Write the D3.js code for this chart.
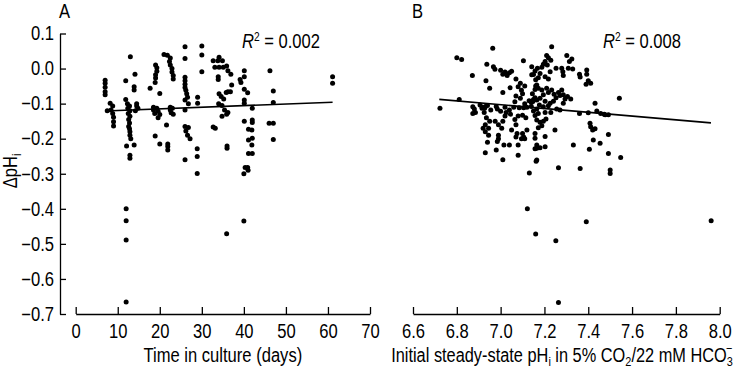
<!DOCTYPE html>
<html>
<head>
<meta charset="utf-8">
<script src="https://cdn.jsdelivr.net/npm/d3@7"></script>
<style>
  html, body { margin: 0; padding: 0; background: #fff; }
  svg text { font-family: "Liberation Sans", Arial, sans-serif; fill: #000; }
</style>
</head>
<body>
<svg id="chart" width="754" height="369"></svg>
<script>
// ---------- DATA ----------
const yTicks = [0.1, 0.0, -0.1, -0.2, -0.3, -0.4, -0.5, -0.6, -0.7];
const xTicksA = [0, 10, 20, 30, 40, 50, 60, 70];
const xTicksB = [6.6, 6.8, 7.0, 7.2, 7.4, 7.6, 7.8, 8.0];

// Panel A: [time in culture (days), delta pHi]
const pointsA = [
  [7,-0.033],[7,-0.042],[7,-0.053],[7,-0.066],[7,-0.075],[7.5,-0.12],
  [8.2,-0.099],[8.8,-0.107],[8.4,-0.118],[8.8,-0.128],[9.0,-0.139],[9.0,-0.152],[9.0,-0.164],
  [13.0,0.034],[14.1,-0.016],[11.9,-0.035],[13.9,-0.052],[13.9,-0.061],[11.9,-0.088],
  [12.3,-0.100],[12.8,-0.107],[12.4,-0.113],[12.9,-0.120],[12.5,-0.128],[12.9,-0.136],[12.6,-0.145],
  [12.8,-0.155],[12.6,-0.165],[12.8,-0.172],[12.9,-0.180],[12.9,-0.190],[13.1,-0.200],
  [14.5,-0.100],[14.5,-0.107],[14.8,-0.113],[14.2,-0.120],
  [12.1,-0.221],[13.9,-0.218],[12.9,-0.247],[12.9,-0.256],
  [12.0,-0.400],[12.0,-0.434],[12.0,-0.489],[12.0,-0.666],
  [17.7,-0.056],[18.9,-0.040],[19.0,0.010],[19.3,0.002],[19.3,-0.008],[19.0,-0.018],[19.0,-0.027],
  [21.0,0.040],[21.8,0.038],[22.5,0.030],[22.3,0.020],[22.5,0.010],[22.9,0.000],[22.9,-0.010],[23.2,-0.020],[23.2,-0.030],
  [20.0,-0.071],
  [18.5,-0.110],[19.3,-0.113],[18.5,-0.118],[19.6,-0.122],[18.8,-0.128],[20.0,-0.131],[19.6,-0.140],
  [22.5,-0.110],[23.0,-0.113],[22.5,-0.118],[22.7,-0.126],[23.2,-0.130],
  [21.6,-0.161],[18.9,-0.192],[20.0,-0.215],[21.9,-0.215],[21.9,-0.222],[21.9,-0.232],
  [26,0.062],[26,0.029],[26,-0.025],[26,-0.035],[26,-0.045],[26,-0.054],[26.2,-0.062],[26.4,-0.072],
  [26.6,-0.082],[26,-0.090],[26.8,-0.100],[26,-0.118],
  [26,-0.165],[26.8,-0.168],[26.2,-0.178],[26.6,-0.190],[27.2,-0.200],[26,-0.260],
  [29,-0.082],[29,-0.099],[28.9,-0.229],[28.9,-0.251],[28.9,-0.299],
  [30,0.064],[30,0.039],[30,-0.009],[32.7,0.022],[32.7,-0.167],
  [34.1,0.032],[33.8,0.022],[34.9,0.022],[33.1,0.004],[34.1,0.004],[35.1,0.004],[35.9,0.007],[36.2,-0.006],
  [36.9,-0.016],[33.9,-0.023],[33.9,-0.031],[37.1,-0.047],[36.2,-0.066],[36.8,-0.066],[35.8,-0.068],
  [34.1,-0.072],[34.6,-0.080],[35.2,-0.087],[34,-0.100],[34.8,-0.105],[35.4,-0.118],[36.2,-0.125],
  [35.9,-0.130],[34.8,-0.136],[33.2,-0.170],[36,-0.221],[36,-0.227],[35.9,-0.471],
  [40.1,-0.006],[39.1,-0.031],[39.3,-0.040],[40.1,-0.023],[40.1,-0.059],[40.9,-0.069],[40.1,-0.090],
  [40.1,-0.099],[42,-0.113],[40.1,-0.150],[42,-0.147],[42,-0.154],[41.1,-0.173],[41.9,-0.175],
  [42,-0.199],[41.1,-0.204],[41.9,-0.218],[41.1,-0.242],[42,-0.242],[40.3,-0.282],[40.9,-0.282],
  [40,-0.300],[41,-0.290],[40,-0.435],
  [46.2,-0.006],[47,-0.064],[47,-0.097],[46,-0.156],[47,-0.156],[47,-0.202],
  [61.1,-0.023],[61.1,-0.042]
];

// Panel B: [initial steady-state pHi, delta pHi]
const pointsB = [
  [6.723,-0.113],[6.811,-0.088],[6.80,0.031],[6.822,0.026],[6.871,-0.020],[6.964,0.058],
  [6.937,0.012],[6.967,0.005],[6.974,-0.002],
  [7.00,-0.005],[7.02,-0.010],[7.01,-0.016],[7.04,-0.012],[7.05,-0.008],[7.03,-0.020],
  [7.104,0.022],[7.142,0.005],[6.933,-0.035],[6.95,-0.056],[7.01,-0.068],[7.043,-0.055],
  [7.07,-0.030],[7.09,-0.042],[7.08,-0.052],[7.095,-0.062],[7.10,-0.072],[7.07,-0.078],[7.09,-0.085],[7.11,-0.050],
  [7.065,-0.095],[7.13,-0.092],[7.11,-0.100],[7.15,-0.088],[7.14,-0.097],
  [7.15,-0.017],[7.16,-0.032],[7.16,-0.050],[7.157,-0.060],[7.145,-0.072],[7.165,-0.090],
  [6.873,-0.109],[6.873,-0.128],[6.906,-0.104],[6.916,-0.110],[6.927,-0.113],
  [6.88,-0.115],[6.885,-0.125],[6.915,-0.113],[6.93,-0.108],[6.94,-0.105],[6.925,-0.125],[6.955,-0.118],
  [6.98,-0.108],[6.985,-0.115],[7.00,-0.122],[7.02,-0.110],[7.025,-0.125],[7.04,-0.118],[7.06,-0.110],
  [7.085,-0.112],[7.105,-0.112],[7.12,-0.110],[7.14,-0.108],
  [6.935,-0.140],[6.95,-0.150],[6.93,-0.160],[6.945,-0.170],[6.975,-0.150],[6.99,-0.160],[7.01,-0.150],
  [7.02,-0.135],[7.045,-0.130],[7.065,-0.145],[7.08,-0.135],[7.10,-0.133],[7.115,-0.140],[7.05,-0.175],
  [7.07,-0.160],[7.075,-0.185],[7.10,-0.185],[7.105,-0.195],[7.12,-0.175],[7.005,-0.170],
  [6.92,-0.170],[6.93,-0.180],[6.945,-0.190],
  [6.99,-0.190],[6.99,-0.200],[7.07,-0.195],[7.095,-0.200],[7.11,-0.200],
  [6.94,-0.210],[6.985,-0.208],[7.015,-0.218],[7.04,-0.218],[7.08,-0.218],
  [6.98,-0.232],[6.93,-0.240],[7.01,-0.260],[7.08,-0.247],[7.131,-0.298],[7.165,-0.227],[7.165,-0.261],
  [7.233,0.062],[7.21,0.037],[7.218,0.031],[7.229,0.024],[7.203,0.020],[7.213,0.010],[7.195,0.012],
  [7.188,0.004],[7.168,0.001],[7.157,-0.007],[7.18,-0.014],[7.142,-0.018],[7.172,-0.026],[7.203,-0.023],
  [7.218,-0.030],[7.226,-0.009],[7.253,0.001],[7.279,0.001],[7.284,-0.009],[7.286,-0.020],[7.302,0.037],
  [7.314,0.020],[7.325,0.027],[7.309,0.001],[7.329,-0.001],[7.36,-0.016],[7.363,-0.024],[7.393,-0.004],
  [7.393,-0.016],[7.40,-0.035],[7.411,-0.042],[7.39,-0.045],
  [7.165,-0.047],[7.172,-0.056],[7.188,-0.061],[7.21,-0.056],[7.218,-0.068],[7.195,-0.075],[7.233,-0.061],
  [7.244,-0.073],[7.253,-0.083],[7.264,-0.068],[7.271,-0.077],[7.279,-0.061],[7.286,-0.075],[7.294,-0.087],
  [7.305,-0.080],[7.32,-0.087],[7.286,-0.099],[7.241,-0.093],[7.226,-0.099],[7.203,-0.093],[7.18,-0.085],
  [7.157,-0.083],[7.147,-0.094],[7.218,-0.106],[7.195,-0.109],[7.177,-0.104],[7.165,-0.115],[7.172,-0.128],
  [7.157,-0.134],[7.15,-0.121],[7.203,-0.125],[7.229,-0.125],[7.207,-0.144],[7.195,-0.150],[7.18,-0.153],
  [7.188,-0.163],[7.165,-0.147],[7.172,-0.169],[7.256,-0.115],[7.271,-0.118],[7.36,-0.128],[7.40,-0.126],
  [7.431,-0.099],[7.439,-0.121],[7.457,-0.128],[7.492,-0.132],[7.542,-0.085],[7.477,-0.132],[7.473,-0.130],
  [7.408,-0.156],[7.411,-0.166],[7.42,-0.175],[7.431,-0.172],[7.492,-0.188],[7.423,-0.204],[7.454,-0.213],
  [7.332,-0.218],[7.405,-0.230],[7.492,-0.242],[7.548,-0.254],[7.162,-0.264],[7.264,-0.283],[7.363,-0.285],
  [7.5,-0.289],[7.5,-0.299],[7.157,-0.199],[7.165,-0.218],[7.18,-0.226],[7.157,-0.229],[7.203,-0.223],
  [7.203,-0.194],[7.248,-0.175],[7.157,-0.185],
  [7.122,-0.400],[7.391,-0.437],[7.961,-0.434],[7.16,-0.472],[7.252,-0.491],[7.264,-0.667]
];

// Regression lines (endpoints in data units)
const fitA = [[7.0, -0.121], [61.1, -0.096]];
const fitB = [[6.72, -0.088], [7.96, -0.155]];
const r2A = "0.002";
const r2B = "0.008";

// ---------- LAYOUT ----------
const svg = d3.select("#chart");
const FONT = 19.5;
const NARROW = 0.85;   // condensed (Arial Narrow–like) glyphs
const yBase = 314, yTop = 33.5;

const y = d3.scaleLinear().domain([-0.7, 0.1]).range([yBase, yTop]);
const xA = d3.scaleLinear().domain([0, 70]).range([75.7, 370]);
const xB = d3.scaleLinear().domain([6.6, 8.0]).range([413, 719.7]);
const fmt1 = d3.format(".1f");

// Y axis (panel A)
const yAxis = svg.append("g").attr("transform", "translate(60,0)")
  .call(d3.axisLeft(y).tickValues(yTicks).tickFormat(fmt1).tickSizeInner(-6).tickSizeOuter(0).tickPadding(6));

const gxA = svg.append("g").attr("transform", `translate(0,${yBase})`)
  .call(d3.axisBottom(xA).tickValues(xTicksA).tickFormat(d3.format("d"))
    .tickSizeInner(-7).tickSizeOuter(0).tickPadding(10));
const gxB = svg.append("g").attr("transform", `translate(0,${yBase})`)
  .call(d3.axisBottom(xB).tickValues(xTicksB).tickFormat(fmt1)
    .tickSizeInner(-7).tickSizeOuter(0).tickPadding(10));

[yAxis, gxA, gxB].forEach(g => {
  g.selectAll("path.domain").attr("stroke", "#000").attr("stroke-width", 1.3);
  g.selectAll(".tick line").attr("stroke", "#000").attr("stroke-width", 1.3);
  g.selectAll("text").attr("font-size", FONT).attr("font-family", null).style("fill", "#000");
});

// Regression lines
const lineA = d3.line().x(d => xA(d[0])).y(d => y(d[1]));
const lineB = d3.line().x(d => xB(d[0])).y(d => y(d[1]));
svg.append("path").attr("d", lineA(fitA)).attr("stroke", "#000").attr("stroke-width", 1.6).attr("fill", "none");
svg.append("path").attr("d", lineB(fitB)).attr("stroke", "#000").attr("stroke-width", 1.6).attr("fill", "none");

// Points
const R = 2.5;
svg.append("g").selectAll("circle").data(pointsA).join("circle")
  .attr("cx", d => xA(d[0])).attr("cy", d => y(d[1])).attr("r", R).attr("fill", "#000");
svg.append("g").selectAll("circle").data(pointsB).join("circle")
  .attr("cx", d => xB(d[0])).attr("cy", d => y(d[1])).attr("r", R).attr("fill", "#000");

// Panel letters
svg.append("text").attr("x", 59).attr("y", 18).attr("font-size", FONT).text("A");
svg.append("text").attr("x", 412).attr("y", 18).attr("font-size", FONT).text("B");

// R^2 labels
function r2(x, val) {
  const t = svg.append("text").attr("x", x).attr("y", 48).attr("font-size", FONT);
  t.append("tspan").attr("font-style", "italic").text("R");
  t.append("tspan").attr("font-size", 12).attr("dy", -7).text("2");
  t.append("tspan").attr("dy", 7).text(" = " + val);
}
r2(242, r2A);
r2(603, r2B);

// Axis titles
svg.append("text").attr("x", (75.7 + 370) / 2).attr("y", 362)
  .attr("text-anchor", "middle").attr("font-size", FONT).text("Time in culture (days)");

const tB = svg.append("text").attr("x", 562).attr("y", 362)
  .attr("text-anchor", "middle").attr("font-size", FONT).attr("data-narrow", 0.823);
tB.append("tspan").text("Initial steady-state pH");
tB.append("tspan").attr("font-size", 13).attr("dy", 4).text("i");
tB.append("tspan").attr("dy", -4).text(" in 5% CO");
tB.append("tspan").attr("font-size", 13).attr("dy", 4).text("2");
tB.append("tspan").attr("dy", -4).text("/22 mM HCO");
tB.append("tspan").attr("font-size", 13).attr("dy", 4).text("3");
tB.append("tspan").attr("font-size", 13).attr("dx", -8).attr("dy", -13).text("\u2212");

// Y title
const yt = svg.append("text").attr("transform", "translate(17,171) rotate(-90)")
  .attr("text-anchor", "middle").attr("font-size", FONT);
yt.append("tspan").text("\u0394pH");
yt.append("tspan").attr("font-size", 13).attr("dy", 4).text("i");

// Condense every text (the original uses a narrow sans face)
svg.selectAll("text").each(function() {
  const w = this.getComputedTextLength();
  const f = +(this.getAttribute("data-narrow") || NARROW);
  if (w > 0) {
    d3.select(this).attr("textLength", (w * f).toFixed(2)).attr("lengthAdjust", "spacingAndGlyphs");
  }
});
</script>
</body>
</html>
